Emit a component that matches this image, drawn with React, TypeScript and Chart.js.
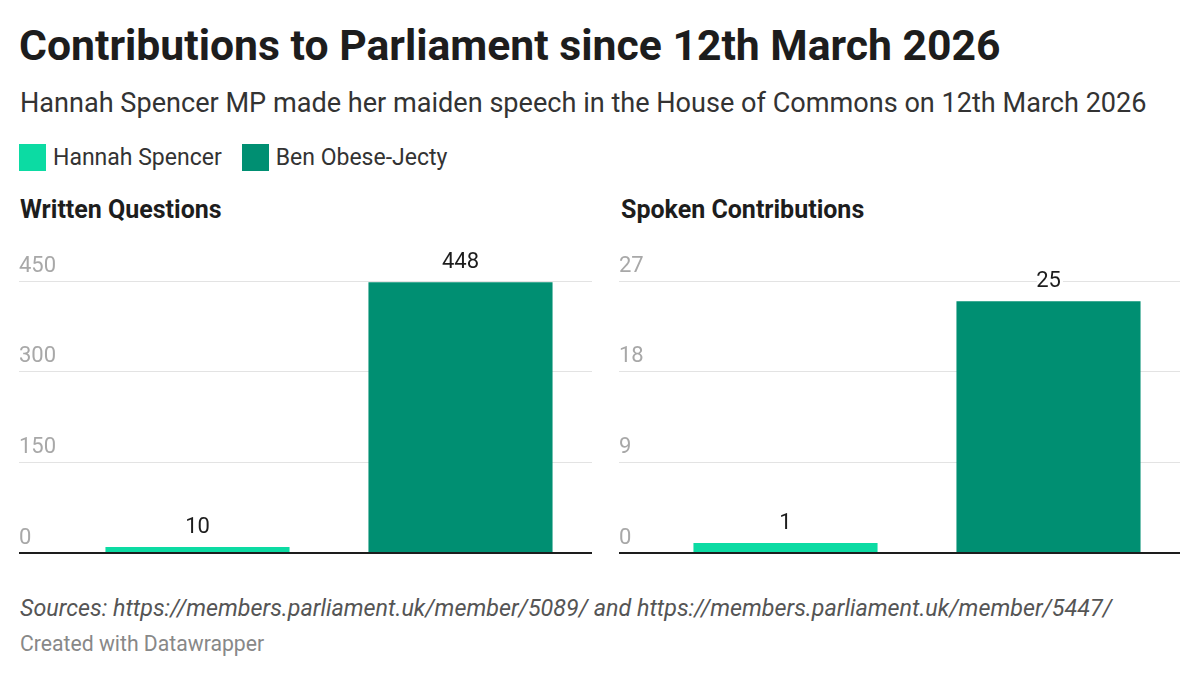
import React, { useEffect, useRef } from "react";
import { Chart, registerables } from "chart.js";

Chart.register(...registerables);

// ---- data ----
const PEOPLE: string[] = ["Hannah Spencer", "Ben Obese-Jecty"];
const PERSON_COLORS: string[] = ["#0cdba3", "#008f72"];
const WRITTEN_QUESTIONS: number[] = [10, 448];
const SPOKEN_CONTRIBUTIONS: number[] = [1, 25];
const WRITTEN_TICKS: number[] = [0, 150, 300, 450];
const SPOKEN_TICKS: number[] = [0, 9, 18, 27];

const TITLE = "Contributions to Parliament since 12th March 2026";
const SUBTITLE = "Hannah Spencer MP made her maiden speech in the House of Commons on 12th March 2026";
const WRITTEN_TITLE = "Written Questions";
const SPOKEN_TITLE = "Spoken Contributions";
const SOURCES = "Sources: https://members.parliament.uk/member/5089/ and https://members.parliament.uk/member/5447/";
const CREDIT = "Created with Datawrapper";

const FONT = "Roboto, 'Noto Sans', Arial, sans-serif";

const valueLabels = {
  id: "valueLabels",
  afterDatasetsDraw(chart: any) {
    const ctx = chart.ctx as CanvasRenderingContext2D;
    const ds = chart.data.datasets[0];
    const meta = chart.getDatasetMeta(0);
    ctx.save();
    ctx.font = `22px ${FONT}`;
    ctx.textAlign = "center";
    ctx.textBaseline = "alphabetic";
    meta.data.forEach((bar: any, i: number) => {
      const text = String(ds.data[i]);
      const x = bar.x;
      const y = bar.y - 14;
      ctx.lineWidth = 6;
      ctx.lineJoin = "round";
      ctx.strokeStyle = "#ffffff";
      ctx.strokeText(text, x, y);
      ctx.fillStyle = "#1d1d1d";
      ctx.fillText(text, x, y);
    });
    ctx.restore();
  },
};

function BarPanel(props: { values: number[]; ticks: number[]; tickLength: number; left: number; width: number }) {
  const ref = useRef<HTMLCanvasElement | null>(null);
  const { values, ticks, tickLength, left, width } = props;
  useEffect(() => {
    if (!ref.current) return;
    const chart = new Chart(ref.current, {
      type: "bar",
      data: {
        labels: PEOPLE,
        datasets: [
          {
            data: values,
            backgroundColor: PERSON_COLORS,
            borderWidth: 0,
            barPercentage: 0.7,
            categoryPercentage: 1,
          },
        ],
      },
      options: {
        animation: false,
        responsive: true,
        maintainAspectRatio: false,
        layout: { padding: { top: 41, bottom: 14, left: 0, right: 0 } },
        plugins: { legend: { display: false }, tooltip: { enabled: false } },
        scales: {
          x: { display: false },
          y: {
            min: ticks[0],
            max: ticks[ticks.length - 1],
            afterBuildTicks: (scale: any) => {
              scale.ticks = ticks.map((v) => ({ value: v }));
            },
            afterFit: (scale: any) => {
              scale.width = tickLength;
            },
            border: { display: false },
            grid: {
              color: (c: any) => (c.tick && c.tick.value === 0 ? "#1d1d1d" : "#e3e3e3"),
              lineWidth: (c: any) => (c.tick && c.tick.value === 0 ? 2 : 1),
              drawTicks: true,
              tickLength: tickLength,
            },
            ticks: {
              crossAlign: "far",
              padding: 0,
              labelOffset: -15,
              font: { family: FONT, size: 22 },
              color: "#a8a8a8",
            },
          },
        },
      } as any,
      plugins: [valueLabels],
    });
    return () => chart.destroy();
  }, [values, ticks, tickLength]);
  return (
    <div style={{ position: "absolute", left, top: 240, width, height: 327 }}>
      <canvas ref={ref} />
    </div>
  );
}

function Txt(props: {
  x: number;
  baseline: number;
  size: number;
  weight?: number;
  italic?: boolean;
  color: string;
  children: React.ReactNode;
}) {
  const { x, baseline, size, weight = 400, italic = false, color, children } = props;
  return (
    <div
      style={{
        position: "absolute",
        left: x,
        top: baseline - 0.842 * size,
        fontSize: size,
        lineHeight: `${size}px`,
        fontWeight: weight,
        fontStyle: italic ? "italic" : "normal",
        color,
        whiteSpace: "nowrap",
      }}
    >
      {children}
    </div>
  );
}

export default function App() {
  return (
    <div
      style={{
        position: "absolute",
        left: 0,
        top: 0,
        width: 1200,
        height: 676,
        background: "#ffffff",
        fontFamily: FONT,
        overflow: "hidden",
      }}
    >
      <Txt x={19} baseline={60} size={42.7} weight={700} color="#1d1d1d">
        {TITLE}
      </Txt>
      <Txt x={20} baseline={113} size={27.1} color="#333333">
        {SUBTITLE}
      </Txt>
      <div
        style={{
          position: "absolute",
          left: 19,
          top: 144,
          height: 27,
          display: "flex",
          alignItems: "center",
          fontSize: 23,
          color: "#333333",
          whiteSpace: "nowrap",
        }}
      >
        {PEOPLE.map((p, i) => (
          <div key={p} style={{ display: "flex", alignItems: "center", marginRight: 20 }}>
            <div style={{ width: 27, height: 27, background: PERSON_COLORS[i], marginRight: 7 }} />
            <span style={{ lineHeight: "27px" }}>{p}</span>
          </div>
        ))}
      </div>
      <Txt x={20} baseline={218} size={25} weight={700} color="#1d1d1d">
        {WRITTEN_TITLE}
      </Txt>
      <Txt x={621} baseline={218} size={25} weight={700} color="#1d1d1d">
        {SPOKEN_TITLE}
      </Txt>
      <BarPanel values={WRITTEN_QUESTIONS} ticks={WRITTEN_TICKS} tickLength={47} left={19} width={573} />
      <BarPanel values={SPOKEN_CONTRIBUTIONS} ticks={SPOKEN_TICKS} tickLength={35} left={619} width={561} />
      <Txt x={20} baseline={617} size={23.3} italic color="#555555">
        {SOURCES}
      </Txt>
      <Txt x={20} baseline={651} size={21.2} color="#888888">
        {CREDIT}
      </Txt>
    </div>
  );
}
